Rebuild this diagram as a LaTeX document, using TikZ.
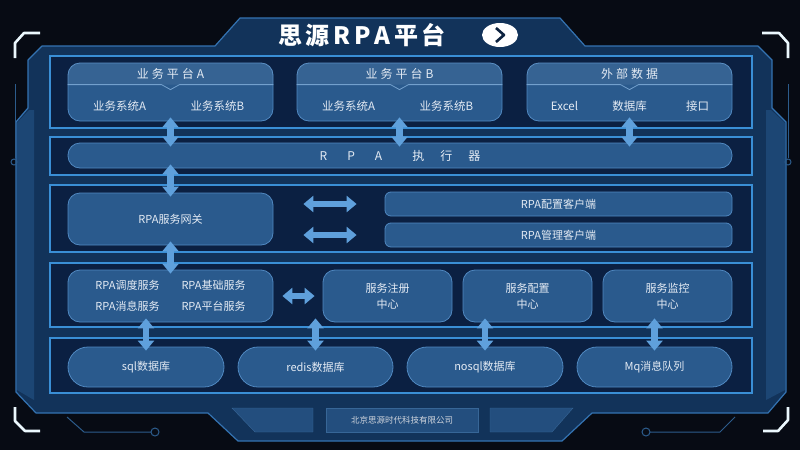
\documentclass[tikz,border=0pt]{standalone}
\usepackage{fontspec}
\setmainfont{Noto Sans CJK SC}
\usepackage{tikz}
\usetikzlibrary{positioning,calc,shapes,arrows.meta}

\definecolor{bgdark}{HTML}{070B14}
\definecolor{panelfill}{HTML}{12335A}
\definecolor{paneledge}{HTML}{3473B2}
\definecolor{framefill}{HTML}{0B2042}
\definecolor{frameedge}{HTML}{3A8FD6}
\definecolor{boxfill}{HTML}{2A5A8D}
\definecolor{boxedge}{HTML}{5088C0}
\definecolor{arrowblue}{HTML}{5FA0DC}
\definecolor{txt}{HTML}{E4EBF4}
\definecolor{decoline}{HTML}{2C5C8C}
\definecolor{navy}{HTML}{0D2340}

\tikzset{panel/.style={draw=paneledge,line width=1.2pt,fill=panelfill,line join=round}}
\tikzset{frame/.style={draw=frameedge,line width=1.2pt,fill=framefill,inner sep=0pt}}
\tikzset{box/.style={draw=boxedge,line width=0.8pt,fill=boxfill,rounded corners=12pt,inner sep=0pt,
	text=txt,font=\fontsize{11}{13}\selectfont,align=center}}
\tikzset{pill/.style={box,rounded corners=20pt,minimum height=40pt}}
\tikzset{headtext/.style={text=txt,font=\fontsize{12}{14}\selectfont}}
\tikzset{subtext/.style={text=txt,font=\fontsize{11.5}{13}\selectfont}}
\tikzset{sepline/.style={draw=boxedge!80!white,line width=0.8pt}}
\tikzset{dblarrow/.style={draw=arrowblue,line width=6.5pt,
	{Triangle[length=10pt,width=16pt]}-{Triangle[length=10pt,width=16pt]},shorten <=-4pt,shorten >=-4pt}}
\tikzset{bracket/.style={draw=white!92!cyan,line width=2.6pt,line join=round}}
\tikzset{deco/.style={draw=decoline,line width=1pt}}

% header strip of a platform box
\newcommand{\platformhead}[2]{%
	\fill[white,fill opacity=0.06,rounded corners=12pt] ($(#1.north west)+(0,22)$) -- (#1.north west) -- (#1.north east) -- ($(#1.north east)+(0,22)$);
	\draw[sepline] ($(#1.north west)+(0,22)$) -- ($(#1.north)+(-9,22)$) -- ($(#1.north)+(0,27)$) -- ($(#1.north)+(9,22)$) -- ($(#1.north east)+(0,22)$);
	\node[headtext] (#1head) at ($(#1.north)+(0,11)$) {#2};}

\begin{document}
\begin{tikzpicture}[x=1pt,y=-1pt]
	\useasboundingbox[fill=bgdark] (0,0) rectangle (800,450);

	%% outer panel with the title tab
	\draw[panel] (16,122) -- (28,108) -- (28,60) -- (42,46) -- (215,46) -- (240,18) -- (560,18) -- (585,46) -- (758,46) -- (772,60)
		-- (772,108) -- (786,122) -- (786,392) -- (768,413) -- (592,413) -- (562,441) -- (238,441) -- (208,413) -- (36,413) -- (16,392) -- cycle;
	\fill[paneledge!30!panelfill] (17,123) -- (29,110) -- (34,110) -- (34,400) -- (17,390) -- cycle;
	\fill[paneledge!30!panelfill] (785,123) -- (771,110) -- (766,110) -- (766,400) -- (785,390) -- cycle;

	% corner brackets and side lines
	\draw[bracket] (15,58) -- (15,43) -- (24,33) -- (40,33);
	\draw[bracket] (762,33) -- (779,33) -- (788,43) -- (788,58);
	\draw[bracket] (15,407) -- (15,421) -- (25,431) -- (40,431);
	\draw[bracket] (788,407) -- (788,420) -- (778,431) -- (763,431);
	\draw[deco] (15,84) -- (15,158);
	\draw[deco] (14,162) circle[radius=3pt];
	\draw[deco] (788,84) -- (788,158);
	\draw[deco] (788,162) circle[radius=3pt];
	\draw[deco] (67,417) -- (84,432) -- (151,432);
	\draw[deco] (155,432) circle[radius=4pt];
	\draw[deco] (735,417) -- (720,432) -- (650,432);
	\draw[deco] (646,432) circle[radius=4pt];

	%% title
	\node[text=white,font=\fontsize{24}{28}\selectfont\bfseries] (title) at (362,35)
		{思\hspace{3pt}源\hspace{4pt}R\hspace{4pt}P\hspace{4pt}A\hspace{4pt}平\hspace{3pt}台};
	\node[ellipse,fill=white,minimum width=36pt,minimum height=24pt] (go) at (500,35) {};
	\draw[navy,line width=2.6pt,line join=round] ($(go.center)+(-4,-7)$) -- ($(go.center)+(4,0)$) -- ($(go.center)+(-4,7)$);

	%% row frames
	\node[frame,minimum width=702pt,minimum height=72pt] (rowA) at (401,92) {};
	\node[frame,minimum width=702pt,minimum height=38pt] (rowB) at (401,156) {};
	\node[frame,minimum width=702pt,minimum height=67pt] (rowC) at (401,218.5) {};
	\node[frame,minimum width=702pt,minimum height=64pt] (rowD) at (401,295) {};
	\node[frame,minimum width=702pt,minimum height=55pt] (rowE) at (401,365.5) {};

	%% row 1: platforms
	\node[box,minimum width=205pt,minimum height=58pt] (pfA) at (170.5,92) {};
	\platformhead{pfA}{业\hspace{3pt}务\hspace{3pt}平\hspace{3pt}台\hspace{3pt}A}
	\node[subtext] (pfAa) at ($(pfA.center)+(-51,14)$) {业务系统A};
	\node[subtext] (pfAb) at ($(pfA.center)+(47,14)$) {业务系统B};
	\node[box,minimum width=205pt,minimum height=58pt] (pfB) at (399.5,92) {};
	\platformhead{pfB}{业\hspace{3pt}务\hspace{3pt}平\hspace{3pt}台\hspace{3pt}B}
	\node[subtext] (pfBa) at ($(pfB.center)+(-51,14)$) {业务系统A};
	\node[subtext] (pfBb) at ($(pfB.center)+(47,14)$) {业务系统B};
	\node[box,minimum width=205pt,minimum height=58pt] (ext) at (629.5,92) {};
	\platformhead{ext}{外\hspace{3pt}部\hspace{3pt}数\hspace{3pt}据}
	\node[subtext] (extxls) at ($(ext.center)+(-65,14)$) {Excel};
	\node[subtext] (extdb) at ($(ext.center)+(0,14)$) {数据库};
	\node[subtext] (extapi) at ($(ext.center)+(68,14)$) {接口};

	%% row 2: executor
	\node[box,minimum width=664pt,minimum height=25pt,font=\fontsize{12}{14}\selectfont] (exec) at (400,155.5)
		{R\hspace{20pt}P\hspace{20pt}A\hspace{30pt}执\hspace{16pt}行\hspace{16pt}器};

	%% row 3: gateway and clients
	\node[box,minimum width=205pt,minimum height=52pt] (gw) at (170.5,219) {RPA服务网关};
	\node[box,rounded corners=6pt,minimum width=347pt,minimum height=24pt] (cfg) at (558.5,204) {RPA配置客户端};
	\node[box,rounded corners=6pt,minimum width=347pt,minimum height=24pt] (mgr) at (558.5,235) {RPA管理客户端};

	%% row 4: services
	\node[box,minimum width=205pt,minimum height=52pt] (svc) at (170.5,296)
		{RPA调度服务\hspace{22pt}RPA基础服务\\[8pt]RPA消息服务\hspace{22pt}RPA平台服务};
	\node[box,minimum width=129pt,minimum height=52pt] (reg) at (387.5,296) {服务注册\\[3pt]中心};
	\node[box,minimum width=129pt,minimum height=52pt] (conf) at (527.5,296) {服务配置\\[3pt]中心};
	\node[box,minimum width=129pt,minimum height=52pt] (mon) at (667.5,296) {服务监控\\[3pt]中心};

	%% row 5: storage
	\node[pill,minimum width=156pt] (sql) at (146,367) {sql数据库};
	\node[pill,minimum width=155pt] (redis) at (315.5,367) {redis数据库};
	\node[pill,minimum width=156pt] (nosql) at (485,367) {nosql数据库};
	\node[pill,minimum width=155pt] (mq) at (654.5,367) {Mq消息队列};

	%% footer
	\fill[boxfill!70!panelfill,draw=boxedge!60!panelfill] (232,408) -- (313,408) -- (313,432) -- (255,432) -- cycle;
	\fill[boxfill!70!panelfill,draw=boxedge!60!panelfill] (490,408) -- (573,408) -- (552,432) -- (490,432) -- cycle;
	\node[draw=boxedge!60!panelfill,fill=boxfill!70!panelfill,minimum width=152pt,minimum height=24pt,
		text=txt!80!gray,font=\fontsize{8.5}{10}\selectfont] (co) at (402,420) {北京思源时代科技有限公司};

	%% connectors
	\draw[dblarrow] (pfA.south) -- (pfA.south |- exec.north);
	\draw[dblarrow] (pfB.south) -- (pfB.south |- exec.north);
	\draw[dblarrow] (ext.south) -- (ext.south |- exec.north);
	\draw[dblarrow] (exec.south -| gw.north) -- (gw.north);
	\draw[dblarrow] (gw.south) -- (svc.north);
	\draw[dblarrow,shorten <=30pt,shorten >=28pt] (gw.east |- cfg.west) -- (cfg.west);
	\draw[dblarrow,shorten <=30pt,shorten >=28pt] (gw.east |- mgr.west) -- (mgr.west);
	\draw[dblarrow,shorten <=9pt,shorten >=8pt] (svc.east) -- (reg.west);
	\draw[dblarrow] (sql.north) -- (sql.north |- svc.south);
	\draw[dblarrow] (redis.north) -- (redis.north |- svc.south);
	\draw[dblarrow] (nosql.north) -- (nosql.north |- conf.south);
	\draw[dblarrow] (mq.north) -- (mq.north |- mon.south);
\end{tikzpicture}
\end{document}
